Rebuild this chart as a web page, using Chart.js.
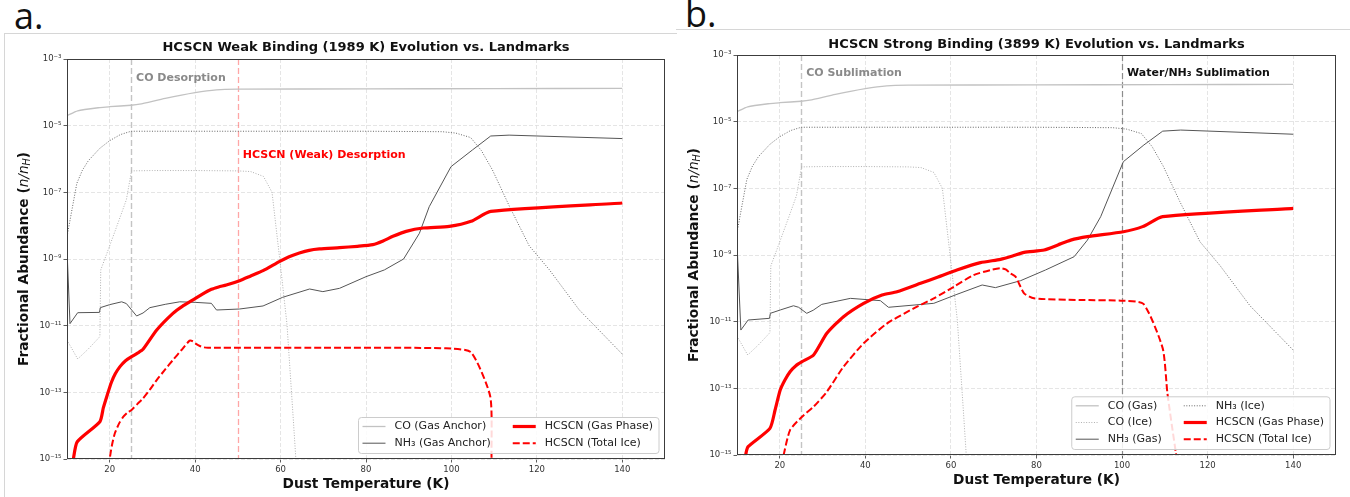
<!DOCTYPE html>
<html>
<head>
<meta charset="utf-8">
<script src="https://cdn.jsdelivr.net/npm/chart.js@4"></script>
<style>
  body { margin: 0; background: #fff; width: 1350px; height: 497px; position: relative; overflow: hidden; }
  .tag { position: absolute; font-family: "Open Sans", sans-serif; font-size: 36px; line-height: 1; color: #111; }
  .edge { position: absolute; border: 0 solid #d6d6d6; }
  canvas { position: absolute; top: 0; }
</style>
</head>
<body>
<div class="edge" style="left:4px;top:33px;width:672px;height:470px;border-top-width:1px;border-left-width:1px"></div>
<div class="edge" style="left:676px;top:29px;width:674px;border-top-width:1px"></div>
<div class="tag" style="left:14px;top:-2px">a.</div>
<div class="tag" style="left:685px;top:-4px">b.</div>
<canvas id="chartA" width="675" height="497" style="left:0"></canvas>
<canvas id="chartB" width="675" height="497" style="left:675px"></canvas>
<script>
// axis ticks
const xTickValues = [20, 40, 60, 80, 100, 120, 140];
const yTickValues = [1e-15, 1e-13, 1e-11, 1e-9, 1e-7, 1e-5, 1e-3];
const yTickLabels = ['10⁻¹⁵', '10⁻¹³', '10⁻¹¹', '10⁻⁹', '10⁻⁷', '10⁻⁵', '10⁻³'];

// landmark species, same in both runs (temperature K, abundance n/nH)
const coGasT  = [10, 12.5, 17.7, 20, 25, 27, 33, 40, 45, 50, 80, 110, 140];
const coGasAb = [2.0e-5, 2.8e-5, 3.5e-5, 3.7e-5, 4.1e-5, 4.4e-5, 6.6e-5, 9.8e-5, 1.19e-4, 1.24e-4, 1.27e-4, 1.29e-4, 1.32e-4];
const coIceT  = [10, 12.5, 15, 17.7, 17.9, 20, 22, 23.9, 25.1, 30, 40, 50, 53, 56, 58, 60, 61.5, 63, 64.2];
const coIceAb = [3.7e-12, 1.0e-12, 2.0e-12, 4.7e-12, 4.7e-10, 2.5e-9, 1.26e-8, 6.0e-8, 4.4e-7, 4.5e-7, 4.5e-7, 4.4e-7, 4.2e-7, 3.0e-7, 1.0e-7, 6.0e-10, 1.1e-11, 1.4e-14, 6.0e-17];
const nh3IceT  = [10, 12.3, 13.6, 15, 17.7, 20, 22.5, 25, 40, 60, 80, 97.8, 101, 104.5, 107, 109.6, 113.5, 118.2, 122.9, 129.9, 140];
const nh3IceAb = [4.7e-9, 1.86e-7, 4.6e-7, 8.9e-7, 2.1e-6, 3.55e-6, 5.4e-6, 6.8e-6, 6.8e-6, 6.8e-6, 6.8e-6, 6.6e-6, 6.0e-6, 4.4e-6, 1.8e-6, 4.7e-7, 4.0e-8, 2.5e-9, 4.8e-10, 3.0e-11, 1.4e-12];

// panel a: weak binding (1989 K)
const nh3GasAT  = [10, 10.7, 12.5, 17.6, 17.8, 20, 22.8, 23.9, 26.3, 27.8, 29.4, 33, 36.4, 40, 43.8, 45, 50.4, 55.9, 60.5, 66.8, 69.9, 73.8, 80, 84.3, 88.8, 92.5, 94.8, 99.9, 104.9, 109.2, 113.5, 140];
const nh3GasAAb = [1.9e-9, 1.15e-11, 2.45e-11, 2.5e-11, 3.47e-11, 4.27e-11, 5.2e-11, 4.6e-11, 1.95e-11, 2.4e-11, 3.47e-11, 4.37e-11, 5.2e-11, 5.0e-11, 4.68e-11, 2.95e-11, 3.16e-11, 3.9e-11, 7.1e-11, 1.26e-10, 1.05e-10, 1.32e-10, 2.95e-10, 4.7e-10, 1.0e-9, 5.9e-9, 3.7e-8, 5.9e-7, 1.86e-6, 4.9e-6, 5.2e-6, 4.1e-6];
const gasAT  = [11.2, 11.5, 12.4, 17.7, 18.5, 19.3, 20.4, 21.3, 22.4, 23.7, 25.1, 26.5, 27.8, 31, 34.8, 37, 39.5, 41.7, 43.8, 45.5, 47.3, 50.4, 53, 55.9, 59.8, 62, 64.4, 66.7, 69.1, 73.8, 78, 81.6, 84, 86.3, 89.4, 93.4, 99.5, 104.6, 109.2, 140];
const gasAAb = [4.0e-16, 1.0e-15, 3.3e-15, 1.32e-14, 3.4e-14, 7.4e-14, 2.0e-13, 3.6e-13, 5.9e-13, 8.9e-13, 1.17e-12, 1.5e-12, 1.95e-12, 7.4e-12, 2.34e-11, 3.8e-11, 5.9e-11, 8.9e-11, 1.23e-10, 1.45e-10, 1.66e-10, 2.24e-10, 3.1e-10, 4.47e-10, 8.5e-10, 1.17e-9, 1.51e-9, 1.82e-9, 2.0e-9, 2.19e-9, 2.4e-9, 2.69e-9, 3.47e-9, 4.79e-9, 6.76e-9, 8.5e-9, 9.5e-9, 1.35e-8, 2.69e-8, 4.79e-8];
const iceAT  = [19.6, 20, 20.5, 21.2, 22.2, 23.2, 24.2, 25.1, 26.5, 27.8, 29.4, 31, 32.9, 34.8, 36.8, 38.7, 39.5, 40.3, 41.1, 42, 43, 70, 98.7, 104.6, 109.1, 109.4, 109.7];
const iceAAb = [3.0e-16, 1.0e-15, 2.5e-15, 5.9e-15, 1.17e-14, 1.86e-14, 2.5e-14, 2.95e-14, 4.5e-14, 6.6e-14, 1.2e-13, 2.34e-13, 4.7e-13, 9.3e-13, 1.86e-12, 3.55e-12, 3.4e-12, 2.8e-12, 2.45e-12, 2.24e-12, 2.19e-12, 2.19e-12, 2.09e-12, 1.58e-12, 7.4e-14, 1.0e-15, 3.0e-16];

// panel b: strong binding (3899 K)
const nh3GasBT  = [10, 10.9, 12.6, 17.6, 17.8, 20.1, 23.2, 24.4, 26.3, 27.8, 29.8, 36.5, 43.5, 45.4, 56, 61.4, 67.3, 70.4, 76.3, 82.1, 88.8, 91.9, 95, 100.3, 105.1, 109.5, 113.7, 140];
const nh3GasBAb = [2.24e-9, 5.6e-12, 1.12e-11, 1.26e-11, 1.78e-11, 2.24e-11, 3.0e-11, 2.7e-11, 1.78e-11, 2.2e-11, 3.3e-11, 5.0e-11, 4.27e-11, 2.7e-11, 3.55e-11, 6.6e-11, 1.26e-10, 1.05e-10, 1.7e-10, 3.55e-10, 8.9e-10, 2.8e-9, 1.41e-8, 6.3e-7, 2.0e-6, 5.2e-6, 5.6e-6, 4.2e-6];
const gasBT  = [11.8, 12.1, 12.6, 17.7, 18.9, 20.1, 21.2, 22.4, 23.7, 25.2, 27.9, 31, 34.9, 39.6, 43.9, 47.4, 52.9, 57, 61.4, 66.9, 71.6, 74.4, 77.1, 81.8, 85, 88, 91.9, 100.3, 104.8, 109.5, 140];
const gasBAb = [5.0e-16, 1.12e-15, 1.78e-15, 6.3e-15, 2.24e-14, 8.9e-14, 1.78e-13, 3.16e-13, 4.7e-13, 6.3e-13, 1.0e-12, 4.47e-12, 1.41e-11, 3.55e-11, 6.3e-11, 7.9e-11, 1.41e-10, 2.2e-10, 3.55e-10, 5.9e-10, 7.4e-10, 9.3e-10, 1.2e-9, 1.41e-9, 2.0e-9, 2.8e-9, 3.55e-9, 5.0e-9, 7.1e-9, 1.41e-8, 2.5e-8];
const iceBT  = [20.5, 20.9, 22.4, 25.2, 27.9, 31, 34.9, 39.6, 45.1, 51.3, 56, 60.7, 65.3, 69.3, 71.6, 72.8, 73.9, 75.1, 77.1, 79.4, 90, 99.7, 105, 109.5, 110.6, 112.6, 113.2];
const iceBAb = [5.0e-16, 1.0e-15, 5.6e-15, 1.41e-14, 2.8e-14, 7.9e-14, 4.47e-13, 2.24e-12, 8.9e-12, 2.5e-11, 5.0e-11, 1.12e-10, 2.5e-10, 3.55e-10, 4.0e-10, 3.7e-10, 2.8e-10, 2.24e-10, 7.1e-11, 5.0e-11, 4.47e-11, 4.27e-11, 3.4e-11, 1.58e-12, 7.1e-14, 1.12e-15, 5.0e-16];

const STYLE = {
  coGas:  { color: '#c2c2c2', width: 1.3, dash: [], tension: 0.2 },
  coIce:  { color: '#b0b0b0', width: 1, dash: [1, 1.6], tension: 0 },
  nh3Gas: { color: '#555555', width: 1, dash: [], tension: 0 },
  nh3Ice: { color: '#666666', width: 1, dash: [1, 1.6], tension: 0 },
  gas:    { color: '#ff0000', width: 3.2, dash: [], tension: 0.2 },
  ice:    { color: '#ff0000', width: 2, dash: [7, 3], tension: 0.2 },
};

const FONT = '"DejaVu Sans"';

function line(label, t, v, st) {
  return {
    label, data: t.map((x, i) => ({ x, y: v[i] })),
    borderColor: st.color, borderWidth: st.width, borderDash: st.dash,
    pointRadius: 0, fill: false, tension: st.tension, borderJoinStyle: 'round'
  };
}

function drawRich(ctx, parts, x, y) {
  let w = 0;
  parts.forEach(p => { ctx.font = p.font; w += ctx.measureText(p.text).width; });
  let cx = x - w / 2;
  parts.forEach(p => {
    ctx.font = p.font;
    ctx.fillText(p.text, cx, y + (p.dy || 0));
    cx += ctx.measureText(p.text).width;
  });
}

function drawLegend(ctx, a, cols) {
  ctx.font = '11px ' + FONT;
  const lineLen = 23, gap = 9, colGap = 22, rowH = 16.7;
  const widths = cols.map(c => lineLen + gap + Math.max(...c.map(it => ctx.measureText(it.label).width)));
  const rows = Math.max(...cols.map(c => c.length));
  const w = 4 + widths.reduce((s, v) => s + v, 0) + colGap * (cols.length - 1) + 6;
  const h = rows * rowH + 2.6;
  const left = a.right - 6 - w, top = a.bottom - 5.5 - h;
  ctx.fillStyle = 'rgba(255,255,255,0.85)';
  ctx.strokeStyle = '#cccccc';
  ctx.lineWidth = 1;
  ctx.setLineDash([]);
  ctx.beginPath();
  ctx.roundRect(left, top, w, h, 3);
  ctx.fill();
  ctx.stroke();
  let cx = left + 4;
  cols.forEach((c, ci) => {
    c.forEach((it, ri) => {
      const cy = top + 9 + ri * rowH;
      const st = STYLE[it.style];
      ctx.strokeStyle = st.color;
      ctx.lineWidth = st.width;
      ctx.setLineDash(st.dash);
      ctx.beginPath();
      ctx.moveTo(cx, cy);
      ctx.lineTo(cx + lineLen, cy);
      ctx.stroke();
      ctx.setLineDash([]);
      ctx.fillStyle = '#222';
      ctx.textAlign = 'left';
      ctx.textBaseline = 'middle';
      ctx.fillText(it.label, cx + lineLen + gap, cy);
    });
    cx += widths[ci] + colGap;
  });
}

const panelDecor = {
  id: 'panelDecor',
  beforeDatasetsDraw(chart, args, o) {
    const { ctx, chartArea: a, scales: { x } } = chart;
    ctx.save();
    o.marks.forEach(m => {
      const px = Math.round(x.getPixelForValue(m.t)) + 0.5;
      ctx.strokeStyle = m.color;
      ctx.lineWidth = m.width;
      ctx.setLineDash([6, 3]);
      ctx.beginPath();
      ctx.moveTo(px, a.top);
      ctx.lineTo(px, a.bottom);
      ctx.stroke();
    });
    ctx.restore();
  },
  afterDraw(chart, args, o) {
    const { ctx, chartArea: a, scales: { x, y } } = chart;
    ctx.save();
    ctx.setLineDash([]);
    ctx.strokeStyle = '#3c3c3c';
    ctx.lineWidth = 1;
    ctx.strokeRect(Math.round(a.left) + 0.5, Math.round(a.top) + 0.5, Math.round(a.width) - 1, Math.round(a.height) - 1);

    // landmark labels
    ctx.textAlign = 'left';
    ctx.textBaseline = 'middle';
    ctx.font = 'bold 11px ' + FONT;
    o.marks.forEach(m => {
      ctx.fillStyle = m.textColor;
      ctx.fillText(m.text, x.getPixelForValue(m.t) + 5, y.getPixelForValue(m.textY));
    });

    const cx = (a.left + a.right) / 2;
    ctx.fillStyle = '#111';
    ctx.textAlign = 'center';
    ctx.font = 'bold 13px ' + FONT;
    ctx.fillText(o.title, cx, a.top - o.titleGap);
    ctx.font = 'bold 13.7px ' + FONT;
    ctx.fillText('Dust Temperature (K)', cx, a.bottom + 25.5);

    ctx.save();
    ctx.translate(a.left - 43, (a.top + a.bottom) / 2);
    ctx.rotate(-Math.PI / 2);
    ctx.textAlign = 'left';
    drawRich(ctx, [
      { text: 'Fractional Abundance (', font: 'bold 13.7px ' + FONT },
      { text: 'n/n', font: 'italic 13.7px ' + FONT },
      { text: 'H', font: 'italic 9.6px ' + FONT, dy: 3 },
      { text: ')', font: 'bold 13.7px ' + FONT }
    ], 0, 0);
    ctx.restore();

    drawLegend(ctx, a, o.legend);
    ctx.restore();
  }
};

function makeChart(id, datasets, padding, decor) {
  const tickFont = { family: 'DejaVu Sans', size: 8.5 };
  const grid = { color: '#dedede', lineWidth: 0.8, tickLength: 3.5, tickColor: '#333', tickWidth: 0.8 };
  const border = { display: false, dash: [4, 2] };
  return new Chart(document.getElementById(id), {
    type: 'line',
    data: { datasets },
    options: {
      responsive: false,
      animation: false,
      events: [],
      layout: { padding },
      plugins: { legend: { display: false }, tooltip: { enabled: false }, panelDecor: decor },
      scales: {
        x: {
          type: 'linear', min: 10, max: 150,
          afterBuildTicks: ax => { ax.ticks = xTickValues.map(value => ({ value })); },
          afterFit: ax => { ax.height = 20; },
          ticks: { font: tickFont, color: '#333', padding: 2.5, maxRotation: 0, autoSkip: false, callback: v => String(v) },
          grid, border
        },
        y: {
          type: 'logarithmic', min: 1e-15, max: 1e-3,
          afterBuildTicks: ax => { ax.ticks = yTickValues.map(value => ({ value })); },
          afterFit: ax => { ax.width = 40; },
          ticks: { font: tickFont, color: '#333', padding: 2, autoSkip: false, callback: (v, i) => yTickLabels[i] },
          grid, border
        }
      }
    },
    plugins: [panelDecor]
  });
}

makeChart('chartA', [
  line('HCSCN (Gas Phase)', gasAT, gasAAb, STYLE.gas),
  line('HCSCN (Total Ice)', iceAT, iceAAb, STYLE.ice),
  line('NH₃ (Gas Anchor)', nh3GasAT, nh3GasAAb, STYLE.nh3Gas),
  line('CO (Gas Anchor)', coGasT, coGasAb, STYLE.coGas),
  line('NH₃ (Ice)', nh3IceT, nh3IceAb, STYLE.nh3Ice),
  line('CO (Ice)', coIceT, coIceAb, STYLE.coIce)
], { left: 27, top: 59, right: 10, bottom: 18 }, {
  title: 'HCSCN Weak Binding (1989 K) Evolution vs. Landmarks',
  titleGap: 11,
  marks: [
    { t: 25, color: '#c4c4c4', width: 1.4, text: 'CO Desorption', textColor: '#8a8a8a', textY: 2.7e-4 },
    { t: 50, color: 'rgba(255,0,0,0.35)', width: 1.3, text: 'HCSCN (Weak) Desorption', textColor: '#ff0000', textY: 1.35e-6 }
  ],
  legend: [
    [{ label: 'CO (Gas Anchor)', style: 'coGas' }, { label: 'NH₃ (Gas Anchor)', style: 'nh3Gas' }],
    [{ label: 'HCSCN (Gas Phase)', style: 'gas' }, { label: 'HCSCN (Total Ice)', style: 'ice' }]
  ]
});

makeChart('chartB', [
  line('HCSCN (Gas Phase)', gasBT, gasBAb, STYLE.gas),
  line('HCSCN (Total Ice)', iceBT, iceBAb, STYLE.ice),
  line('NH₃ (Gas)', nh3GasBT, nh3GasBAb, STYLE.nh3Gas),
  line('CO (Gas)', coGasT, coGasAb, STYLE.coGas),
  line('NH₃ (Ice)', nh3IceT, nh3IceAb, STYLE.nh3Ice),
  line('CO (Ice)', coIceT, coIceAb, STYLE.coIce)
], { left: 22, top: 55, right: 14, bottom: 22 }, {
  title: 'HCSCN Strong Binding (3899 K) Evolution vs. Landmarks',
  titleGap: 10.5,
  marks: [
    { t: 25, color: '#c4c4c4', width: 1.4, text: 'CO Sublimation', textColor: '#8a8a8a', textY: 2.8e-4 },
    { t: 100, color: '#8c8c8c', width: 1.2, text: 'Water/NH₃ Sublimation', textColor: '#111', textY: 2.8e-4 }
  ],
  legend: [
    [{ label: 'CO (Gas)', style: 'coGas' }, { label: 'CO (Ice)', style: 'coIce' }, { label: 'NH₃ (Gas)', style: 'nh3Gas' }],
    [{ label: 'NH₃ (Ice)', style: 'nh3Ice' }, { label: 'HCSCN (Gas Phase)', style: 'gas' }, { label: 'HCSCN (Total Ice)', style: 'ice' }]
  ]
});
</script>
</body>
</html>
